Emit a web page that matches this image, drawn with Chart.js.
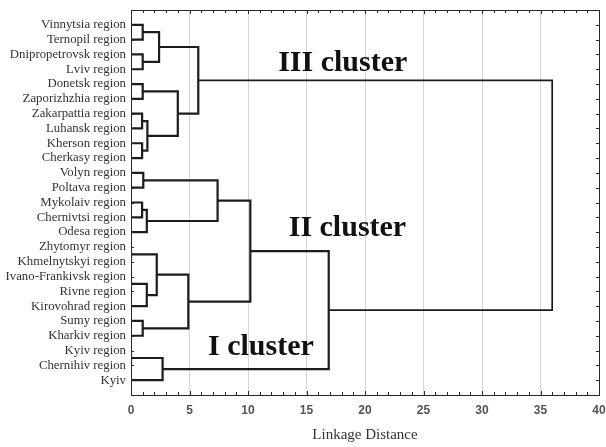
<!DOCTYPE html>
<html>
<head>
<meta charset="utf-8">
<script src="https://cdn.jsdelivr.net/npm/chart.js@4/dist/chart.umd.min.js"></script>
<style>
  html, body { margin: 0; padding: 0; background: #fff; }
  #wrap { width: 606px; height: 447px; }
</style>
</head>
<body>
<div id="wrap"><canvas id="myChart"></canvas></div>
<script>
// leaves, top to bottom
const regions = [
  'Vinnytsia region', 'Ternopil region', 'Dnipropetrovsk region', 'Lviv region',
  'Donetsk region', 'Zaporizhzhia region', 'Zakarpattia region', 'Luhansk region',
  'Kherson region', 'Cherkasy region', 'Volyn region', 'Poltava region',
  'Mykolaiv region', 'Chernivtsi region', 'Odesa region', 'Zhytomyr region',
  'Khmelnytskyi region', 'Ivano-Frankivsk region', 'Rivne region', 'Kirovohrad region',
  'Sumy region', 'Kharkiv region', 'Kyiv region', 'Chernihiv region', 'Kyiv'
];

// linkage: node ids < 25 are leaves, id 25+k is the k-th merge
const mergeLeft  = [0, 2, 25, 4, 6, 8, 29, 28, 27, 10, 12, 35, 34, 15, 17, 39, 38, 20, 41, 37, 22, 45, 44, 33];
const mergeRight = [1, 3, 26, 5, 7, 9, 30, 31, 32, 11, 13, 14, 36, 16, 18, 19, 40, 21, 42, 43, 23, 24, 46, 47];
const mergeDist  = [1.0, 1.0, 2.4, 1.0, 0.95, 0.95, 1.4, 4.0, 5.75, 1.05, 0.95, 1.35, 7.4,
                    0, 0, 1.35, 2.2, 1.0, 4.9, 10.2, 0, 2.7, 16.9, 36.0];

const xTicks = [0, 5, 10, 15, 20, 25, 30, 35, 40];

const clusterNames = ['III cluster', 'II cluster', 'I cluster'];
const clusterX = [18.1, 18.5, 11.1];
const clusterY = [2.6, 13.75, 21.75];

// build the U-shaped links
const nodes = regions.map((r, i) => ({ h: 0, y: i }));
const datasets = [];
mergeDist.forEach((h, k) => {
  const a = nodes[mergeLeft[k]];
  const b = nodes[mergeRight[k]];
  datasets.push({
    data: [{x: a.h, y: a.y}, {x: h, y: a.y}, {x: h, y: b.y}, {x: b.h, y: b.y}],
    showLine: true,
    borderColor: '#1c1c1c',
    borderWidth: k === mergeDist.length - 1 ? 1.7 : 2.2,
    pointRadius: 0,
    fill: false
  });
  nodes.push({ h: h, y: (a.y + b.y) / 2 });
});

const framePlugin = {
  id: 'frame',
  afterDatasetsDraw(chart) {
    const {ctx, chartArea: ca, scales} = chart;
    ctx.save();
    ctx.strokeStyle = '#2a2a2a';
    ctx.lineWidth = 1;
    // minor ticks, inward
    for (let v = 0; v <= 40; v++) {
      const px = Math.round(scales.x.getPixelForValue(v)) + 0.5;
      const len = v % 5 === 0 ? 4 : 3;
      ctx.beginPath();
      ctx.moveTo(px, ca.bottom); ctx.lineTo(px, ca.bottom - len);
      ctx.moveTo(px, ca.top); ctx.lineTo(px, ca.top + len);
      ctx.stroke();
    }
    for (let i = 0; i < regions.length; i++) {
      const py = Math.round(scales.y.getPixelForValue(i)) + 0.5;
      ctx.beginPath();
      ctx.moveTo(ca.right, py); ctx.lineTo(ca.right - 3, py);
      ctx.moveTo(ca.left, py); ctx.lineTo(ca.left + 3, py);
      ctx.stroke();
    }
    ctx.strokeRect(Math.round(ca.left) + 0.5, Math.round(ca.top) + 0.5,
      Math.round(ca.right - ca.left), Math.round(ca.bottom - ca.top));
    // cluster captions
    ctx.fillStyle = '#111';
    ctx.font = 'bold 30px "Liberation Serif", "Times New Roman", serif';
    ctx.textAlign = 'center';
    ctx.textBaseline = 'middle';
    clusterNames.forEach((t, i) => {
      ctx.fillText(t, scales.x.getPixelForValue(clusterX[i]), scales.y.getPixelForValue(clusterY[i]));
    });
    ctx.restore();
  }
};

const ctx = document.getElementById('myChart').getContext('2d');
const myChart = new Chart(ctx, {
  type: 'scatter',
  data: { datasets: datasets },
  options: {
    responsive: true,
    maintainAspectRatio: false,
    animation: false,
    layout: { padding: { top: 10, right: 7, left: 0, bottom: 0 } },
    scales: {
      x: {
        type: 'linear',
        min: 0,
        max: 40,
        afterFit: s => { s.height = 52; s.paddingRight = 0; s.paddingLeft = 0; },
        afterBuildTicks: s => { s.ticks = xTicks.map(v => ({ value: v })); },
        ticks: {
          padding: 8,
          color: '#5a5252',
          font: { family: '"Liberation Sans", Arial, sans-serif', size: 12, weight: 'bold' }
        },
        grid: { color: '#d6d6d6', drawTicks: false },
        border: { display: false },
        title: {
          display: true,
          text: 'Linkage Distance',
          color: '#333',
          padding: { top: 0, bottom: 3 },
          font: { family: '"Liberation Serif", "Times New Roman", serif', size: 15 }
        }
      },
      y: {
        type: 'linear',
        reverse: true,
        min: -1,
        max: 25,
        afterFit: s => { s.width = 131; s.paddingTop = 0; s.paddingBottom = 0; },
        afterBuildTicks: s => { s.ticks = regions.map((r, i) => ({ value: i })); },
        ticks: {
          padding: 5,
          autoSkip: false,
          color: '#333',
          font: { family: '"Liberation Serif", "Times New Roman", serif', size: 12.8 },
          callback: v => regions[v]
        },
        grid: { display: false, drawTicks: false },
        border: { display: false }
      }
    },
    plugins: {
      legend: { display: false },
      tooltip: { enabled: false }
    }
  },
  plugins: [framePlugin]
});
</script>
</body>
</html>
